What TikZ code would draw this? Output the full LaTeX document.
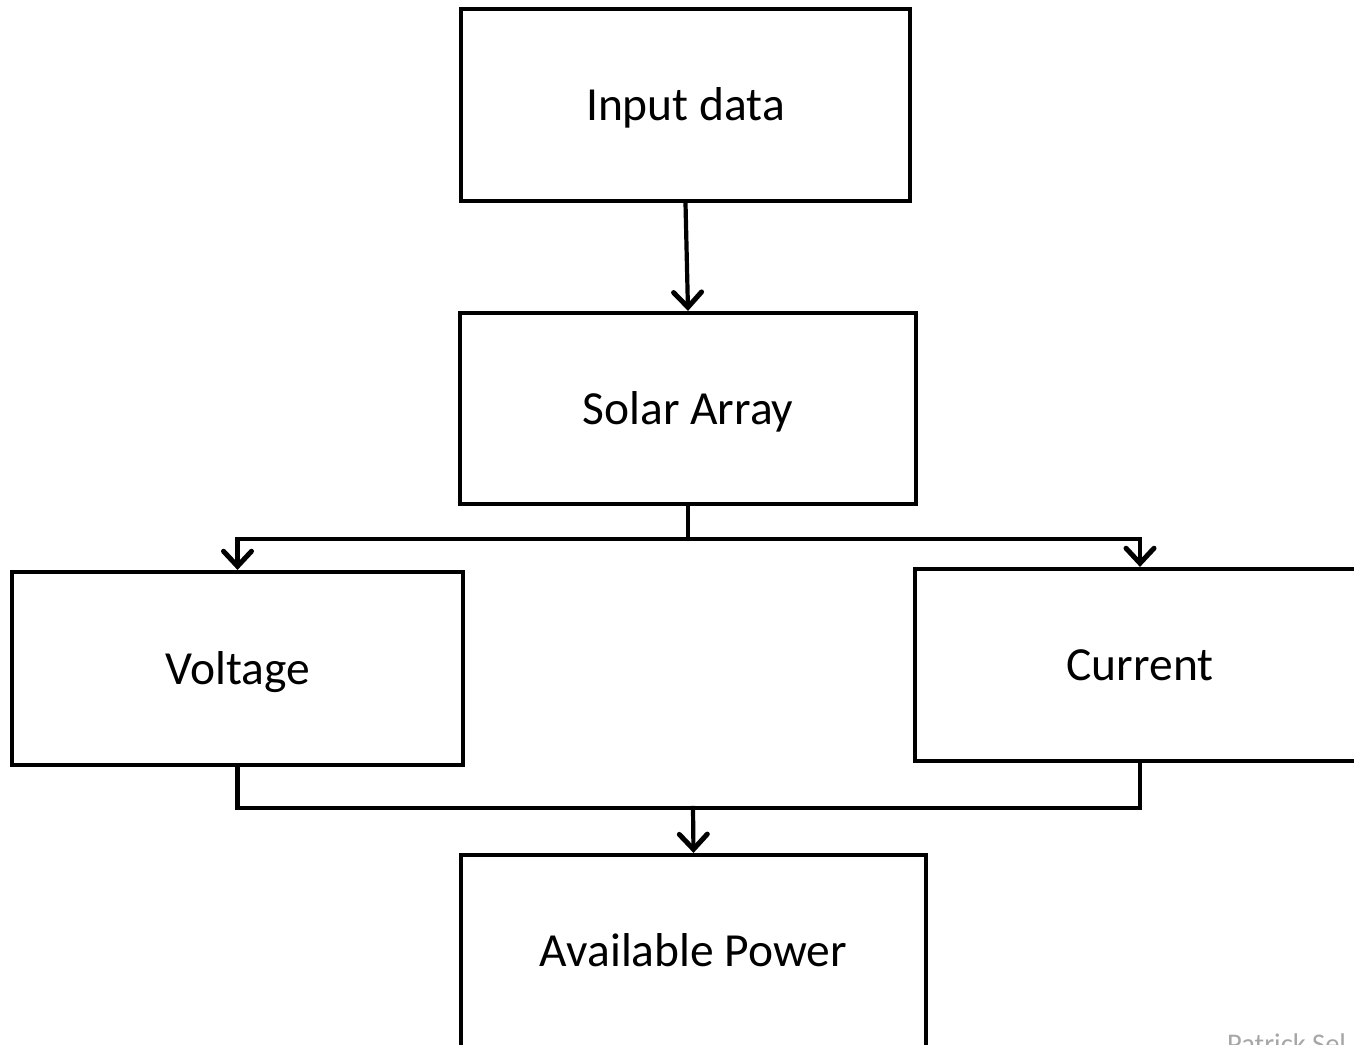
\documentclass[tikz,border=0pt]{standalone}
\usepackage{fontspec}
\setmainfont{Carlito}
\usepackage{tikz}
\usetikzlibrary{arrows.meta,calc,positioning}
\definecolor{flowink}{HTML}{000000}
\definecolor{flownote}{HTML}{A6A6A6}

\begin{document}
\begin{tikzpicture}[x=1pt,y=-1pt,line cap=rect,line join=miter,
  >={Straight Barb[length=15pt,width=28pt,line width=5pt,line cap=round]},
  font=\fontsize{47.5}{56}\selectfont,text=flowink,
  stage/.style={draw=flowink,line width=4.2pt,fill=white,inner sep=0pt,
    text height=41pt,text depth=10pt,minimum height=192pt},
  link/.style={draw=flowink,line width=4.2pt}]
\path[use as bounding box] (0,0) rectangle (1354,1044);
\fill[white] (0,0) rectangle (1354,1044);

% stages
\node[stage,minimum width=449pt] (input) at (685.5,105) {Input data};
\node[stage,minimum width=456pt,minimum height=191pt] (solar) at (688,408.5) {Solar Array};
\node[stage,minimum width=451pt,minimum height=193pt] (volt) at (237.5,668.5) {Voltage};
\node[stage,minimum width=450pt] (curr) at (1140,665) {Current};
\node[stage,minimum width=465pt] (power) at (693.5,951) {Available Power};

% connectors
\coordinate (fork) at ($(solar.south)+(0,33)$);
\coordinate (join) at (693,808);
\draw[link,->] (input.south) -- (solar.north);
\draw[link,->] (solar.south) -- (fork) -| (volt.north);
\draw[link,->] (fork) -| (curr.north);
\draw[link] (volt.south) |- (join);
\draw[link] (curr.south) |- (join);
\draw[link,->] (join) -- (power.north);

\node[anchor=base west,text=flownote,font=\fontsize{28.5}{34}\selectfont,inner sep=0pt]
  (author) at (1227,1053) {Patrick Sel};
\end{tikzpicture}
\end{document}
